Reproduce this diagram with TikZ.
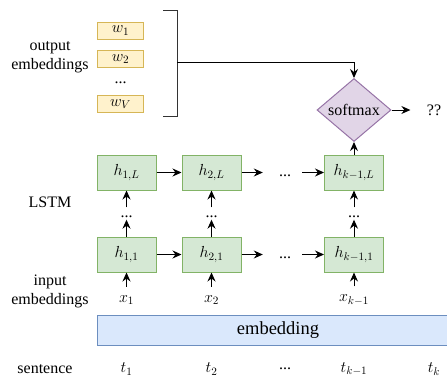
\RequirePackage{fix-cm}
\documentclass[tikz,border=0pt]{standalone}
\usepackage{fontspec}
\setmainfont{Liberation Serif}
\usepackage{amsmath}
\usetikzlibrary{shapes.geometric,arrows.meta}
\definecolor{cellfill}{HTML}{D5E8D4}
\definecolor{cellline}{HTML}{82B366}
\definecolor{wfill}{HTML}{FFF2CC}
\definecolor{wline}{HTML}{D6B656}
\definecolor{smfill}{HTML}{E1D5E7}
\definecolor{smline}{HTML}{9673A6}
\definecolor{embfill}{HTML}{DAE8FC}
\definecolor{embline}{HTML}{6C8EBF}

\tikzset{
  cell/.style={draw=cellline, fill=cellfill, line width=1pt, minimum width=59pt, minimum height=35pt, inner sep=0pt},
  wbox/.style={draw=wline, fill=wfill, line width=1pt, minimum width=46pt, minimum height=17pt, inner sep=0pt},
  ellip/.style={inner sep=0pt, text height=7pt, text depth=0pt},
  conn/.style={->, line width=1pt},
}

\begin{document}
\begin{tikzpicture}[x=1pt,y=-1pt,font=\fontsize{16}{19}\selectfont,
  >={Stealth[length=9pt,width=8pt,inset=3pt]}]
	\useasboundingbox (0,0) rectangle (447,378);
	\clip (0,0) rectangle (447,378);

	% draw output embeddings
	\node[wbox] (w1) at (120.5,30.5) {$w_1$};
	\node[wbox] (w2) at (120.5,59) {$w_2$};
	\node[ellip] (wdots) at (120.5,80) {...};
	\node[wbox] (wV) at (120.5,104) {$w_V$};
	\node[align=center] (outlbl) at (50,57) {output\\embeddings};

	% draw bracket
	\draw[line width=1pt, black!80] (163,10) -- (177,10) -- (177,116) -- (163,116);
	\coordinate (brk) at (177,62);

	% draw softmax
	\node[diamond, draw=smline, fill=smfill, line width=1pt, minimum width=74pt, minimum height=46pt, inner sep=0pt] (sm) at (354,110) {softmax};
	\node (qq) at (434,110) {??};
	\draw[conn] (brk) -| (sm);
	\draw[conn, shorten >=13pt] (sm) -- (qq);

	% draw lstm cells
	\node[cell] (h1L) at (126.5,172.5) {$h_{1,L}$};
	\node[cell] (h2L) at (211.5,172.5) {$h_{2,L}$};
	\node[ellip] (dL) at (285,172.5) {...};
	\node[cell] (hkL) at (354,172.5) {$h_{k-1,L}$};
	\node[cell] (h11) at (126.5,254.5) {$h_{1,1}$};
	\node[cell] (h21) at (211.5,254.5) {$h_{2,1}$};
	\node[ellip] (d1) at (285,254.5) {...};
	\node[cell] (hk1) at (354,254.5) {$h_{k-1,1}$};
	\node (lstm) at (50,202) {LSTM};

	% draw layer dots
	\node[ellip] (v1) at (126.5,214) {...};
	\node[ellip] (v2) at (211.5,214) {...};
	\node[ellip] (vk) at (354,214) {...};

	% draw connectors
	\draw[conn] (h1L) -- (h2L);
	\draw[conn, shorten >=16pt] (h2L) -- (dL);
	\draw[conn, shorten <=11pt] (dL) -- (hkL);
	\draw[conn] (h11) -- (h21);
	\draw[conn, shorten >=16pt] (h21) -- (d1);
	\draw[conn, shorten <=11pt] (d1) -- (hk1);
	\draw[conn] (hkL) -- (sm);
	\foreach \lo/\mid/\hi in {h11/v1/h1L, h21/v2/h2L, hk1/vk/hkL} {
		\draw[conn, shorten >=2pt] (\lo) -- (\mid);
		\draw[conn, shorten <=3pt] (\mid) -- (\hi);
	}

	% draw inputs
	\node (inlbl) at (50,291) [align=center] {input\\embeddings};
	\node (x1) at (126.5,300) {$x_1$};
	\node (x2) at (211.5,300) {$x_2$};
	\node (xk) at (354,300) {$x_{k-1}$};
	\draw[conn, shorten <=5pt] (x1) -- (h11);
	\draw[conn, shorten <=5pt] (x2) -- (h21);
	\draw[conn, shorten <=5pt] (xk) -- (hk1);

	% draw embedding layer
	\node[draw=embline, fill=embfill, line width=1pt, minimum width=362pt, minimum height=30pt, font=\fontsize{18.5}{22}\selectfont] (emb) at (278,330) {embedding};

	% draw sentence
	\node (sent) at (45,369) {sentence};
	\node (t1) at (126.5,369) {$t_1$};
	\node (t2) at (211.5,369) {$t_2$};
	\node (tdots) at (285,369) {...};
	\node (tk1) at (354,369) {$t_{k-1}$};
	\node (tk) at (434,369) {$t_k$};
\end{tikzpicture}
\end{document}
